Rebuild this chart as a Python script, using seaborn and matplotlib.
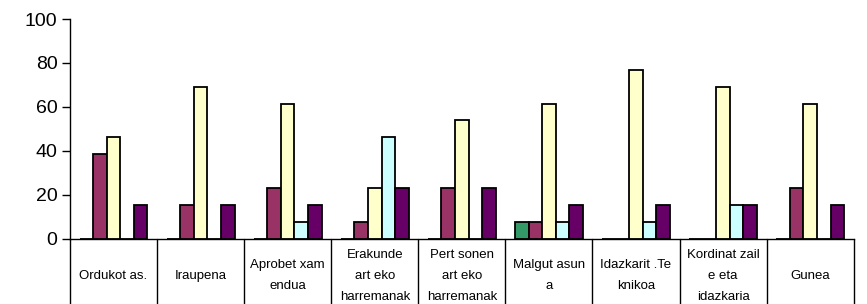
import matplotlib
matplotlib.use("Agg")
import matplotlib.pyplot as plt
import pandas as pd
import seaborn as sns

categories = ["Ordukotas.", "Iraupena", "Aprobetxamendua", "Erakunde arteko harremanak",
              "Pertsonen arteko harremanak", "Malgutasuna", "Idazkarit.Teknikoa",
              "Kordinatzaile eta idazkaria", "Gunea"]
cat_labels = ["Ordukot as.", "Iraupena", "Aprobet xam\nendua", "Erakunde\nart eko\nharremanak",
              "Pert sonen\nart eko\nharremanak", "Malgut asun\na", "Idazkarit .Te\nknikoa",
              "Kordinat zail\ne eta\nidazkaria", "Gunea"]
series = ["S1", "S2", "S3", "S4", "S5"]
s1 = [0, 0, 0, 0, 0, 7.7, 0, 0, 0]
s2 = [38.5, 15.4, 23.1, 7.7, 23.1, 7.7, 0, 0, 23.1]
s3 = [46.2, 69.2, 61.5, 23.1, 53.8, 61.5, 76.9, 69.2, 61.5]
s4 = [0, 0, 7.7, 46.2, 0, 7.7, 7.7, 15.4, 0]
s5 = [15.4, 15.4, 15.4, 23.1, 23.1, 15.4, 15.4, 15.4, 15.4]
colors = ["#339966", "#993366", "#FFFFCC", "#CCFFFF", "#660066"]

rows = []
for name, vals in zip(series, [s1, s2, s3, s4, s5]):
    for cat, v in zip(categories, vals):
        rows.append({"cat": cat, "series": name, "value": v})
df = pd.DataFrame(rows)

sns.set_theme(style="white")
plt.rcParams["font.family"] = ["Liberation Sans", "DejaVu Sans"]

fig = plt.figure(figsize=(8.67, 3.04), dpi=100)
ax = fig.add_axes([0.0807, 0.215, 0.904, 0.7225])
sns.barplot(data=df, x="cat", y="value", hue="series", order=categories,
            hue_order=series, palette=colors, saturation=1, edgecolor="black",
            linewidth=1.3, width=0.78, gap=0, ax=ax, legend=False)

ax.set_xlim(-0.5, len(categories) - 0.5)
ax.set_ylim(0, 100)
ax.set_yticks([0, 20, 40, 60, 80, 100])
ax.tick_params(axis="y", labelsize=14, length=6, width=1, color="black",
               labelcolor="black", left=True, direction="out", pad=3)
ax.tick_params(axis="x", bottom=False, labelbottom=False)
ax.set_xlabel("")
ax.set_ylabel("")
for side in ["top", "right"]:
    ax.spines[side].set_visible(False)
for side in ["left", "bottom"]:
    ax.spines[side].set_color("black")
    ax.spines[side].set_linewidth(1)

# category label table below the axis
tr = ax.get_xaxis_transform()
for i in range(len(categories) + 1):
    ax.plot([i - 0.5, i - 0.5], [0, -0.35], color="black", lw=1,
            transform=tr, clip_on=False)
for i, lab in enumerate(cat_labels):
    ax.text(i, -0.168, lab, transform=tr, ha="center", va="center",
            fontsize=9.5, linespacing=2.0, color="black", clip_on=False)

fig.savefig("out.png", dpi=100)
